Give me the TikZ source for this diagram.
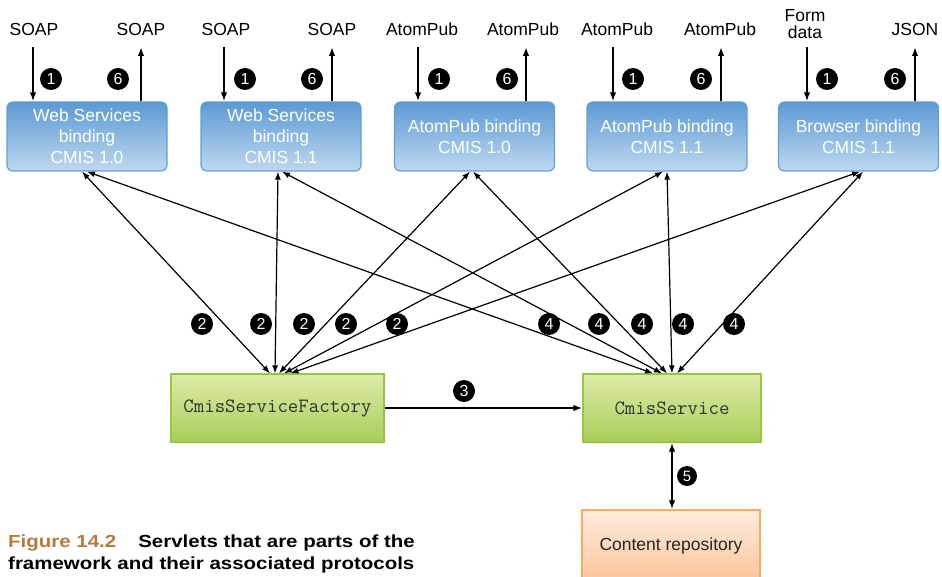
\documentclass[tikz,border=0pt]{standalone}
\usepackage{fontspec}
\setmainfont{Liberation Sans}
\newfontfamily\capfont[FakeStretch=1.17]{Liberation Sans}
\usetikzlibrary{arrows.meta}
\definecolor{bluetop}{RGB}{92,154,212}
\definecolor{bluebot}{RGB}{190,216,240}
\definecolor{blueedge}{RGB}{98,158,215}
\definecolor{greentop}{RGB}{222,234,168}
\definecolor{greenbot}{RGB}{168,206,88}
\definecolor{greenedge}{RGB}{146,200,70}
\definecolor{orangetop}{RGB}{253,236,224}
\definecolor{orangebot}{RGB}{250,196,152}
\definecolor{orangeedge}{RGB}{247,170,100}
\definecolor{capbrown}{RGB}{184,122,60}
\definecolor{monogray}{RGB}{50,50,50}
\tikzset{
  binding/.style={draw=blueedge, line width=1.2pt, rounded corners=6pt,
    top color=bluetop, bottom color=bluebot, minimum width=160pt,
    minimum height=69pt, text=white, align=center, inner sep=0pt,
    font=\fontsize{17.5}{21}\selectfont},
  servlet/.style={draw=greenedge, line width=1.2pt, top color=greentop,
    bottom color=greenbot, minimum height=68pt, inner sep=0pt,
    text=monogray, font=\ttfamily\fontsize{20.3}{22}\selectfont},
  repo/.style={draw=orangeedge, line width=1.2pt, top color=orangetop,
    bottom color=orangebot, minimum height=72pt, minimum width=178pt,
    inner sep=0pt, text=black!85, font=\fontsize{17.5}{21}\selectfont},
  proto/.style={inner sep=0pt, align=center, font=\fontsize{17.5}{17}\selectfont},
  num/.style={circle, fill=black, text=white, minimum size=22pt, inner sep=0pt,
    font=\fontsize{16}{16}\selectfont},
  io/.style={line width=1.8pt, -{Latex[length=9pt,width=6.5pt]}},
  dbl/.style={line width=1.2pt, {Latex[length=8pt,width=6pt]}-{Latex[length=8pt,width=6pt]}},
  thick3/.style={line width=2pt, -{Latex[length=9pt,width=6.5pt]}},
  dbl5/.style={line width=2pt, {Latex[length=9pt,width=6.5pt]}-{Latex[length=9pt,width=6.5pt]}},
}
\begin{document}
\begin{tikzpicture}[x=1pt,y=-1pt]
\useasboundingbox (0,0) rectangle (942,577);

% binding boxes
\node[binding] (b1) at (87,136.5) {Web Services\\binding\\CMIS 1.0};
\node[binding] (b2) at (281,136.5) {Web Services\\binding\\CMIS 1.1};
\node[binding] (b3) at (474.5,136.5) {AtomPub binding\\CMIS 1.0};
\node[binding] (b4) at (667,136.5) {AtomPub binding\\CMIS 1.1};
\node[binding] (b5) at (858.5,136.5) {Browser binding\\CMIS 1.1};

% protocol labels
\node[proto] (p1i) at (34,29) {SOAP};
\node[proto] (p1o) at (141,29) {SOAP};
\node[proto] (p2i) at (226,29) {SOAP};
\node[proto] (p2o) at (332,29) {SOAP};
\node[proto] (p3i) at (422,29) {AtomPub};
\node[proto] (p3o) at (523,29) {AtomPub};
\node[proto] (p4i) at (617,29) {AtomPub};
\node[proto] (p4o) at (720,29) {AtomPub};
\node[proto] (p5i) at (805,24.5) {Form\\data};
\node[proto] (p5o) at (915,29) {JSON};

% arrow ends near labels
\coordinate (t1i) at (33,47);  \coordinate (t1o) at (141,47);
\coordinate (t2i) at (224,47); \coordinate (t2o) at (332,47);
\coordinate (t3i) at (418,47); \coordinate (t3o) at (526,47);
\coordinate (t4i) at (613,47); \coordinate (t4o) at (721,47);
\coordinate (t5i) at (807,47); \coordinate (t5o) at (915,47);

\foreach \k in {1,...,5}{
  \draw[io] (t\k i) -- (t\k i |- b\k.north);
  \draw[io] (t\k o |- b\k.north) -- (t\k o);
}

% numbers 1 and 6
\node[num] (n1a) at (51,79) {1};  \node[num] (n6a) at (118,79) {6};
\node[num] (n1b) at (245,79) {1}; \node[num] (n6b) at (312,79) {6};
\node[num] (n1c) at (439,79) {1}; \node[num] (n6c) at (507,79) {6};
\node[num] (n1d) at (633,79) {1}; \node[num] (n6d) at (701,79) {6};
\node[num] (n1e) at (827,79) {1}; \node[num] (n6e) at (895,79) {6};

% servlet boxes
\node[servlet, minimum width=213pt] (f) at (277.5,408) {CmisServiceFactory};
\node[servlet, minimum width=178pt] (s) at (672,408) {CmisService};
\node[repo] (c) at (671,546) {Content repository};

% double arrows to factory
\draw[dbl] ([xshift=-5pt]b1.south) -- ([xshift=-7.5pt]f.north);
\draw[dbl] ([xshift=-3pt]b2.south) -- ([xshift=-2.5pt]f.north);
\draw[dbl] ([xshift=-4.5pt]b3.south) -- ([xshift=1.5pt]f.north);
\draw[dbl] ([xshift=-4pt]b4.south) -- ([xshift=6.5pt]f.north);
\draw[dbl] ([xshift=1.5pt]b5.south) -- ([xshift=13pt]f.north);
% double arrows to service
\draw[dbl] (b1.south) -- ([xshift=-19pt]s.north);
\draw[dbl] ([xshift=1pt]b2.south) -- ([xshift=-10pt]s.north);
\draw[dbl] ([xshift=-1.5pt]b3.south) -- ([xshift=-5pt]s.north);
\draw[dbl] (b4.south) -- ([xshift=0pt]s.north);
\draw[dbl] ([xshift=4.5pt]b5.south) -- ([xshift=5pt]s.north);

% numbers 2 and 4
\node[num] (n2a) at (202,324) {2};
\node[num] (n2b) at (261,324) {2};
\node[num] (n2c) at (304,324) {2};
\node[num] (n2d) at (346,324) {2};
\node[num] (n2e) at (397,324) {2};
\node[num] (n4a) at (549,324) {4};
\node[num] (n4b) at (599,324) {4};
\node[num] (n4c) at (642,324) {4};
\node[num] (n4d) at (683,324) {4};
\node[num] (n4e) at (734,324) {4};

% factory -> service
\draw[thick3] (f.east) -- (s.west);
\node[num] (n3) at (464,391) {3};

% service <-> repository
\draw[dbl5] (s.south) -- (s.south |- c.north);
\node[num, minimum size=20pt, font=\fontsize{15}{15}\selectfont] (n5) at (687,476) {5};

% caption
\node[anchor=base west, inner sep=0pt, font=\capfont\bfseries\fontsize{17.5}{22}\selectfont] (cap1) at (8,547)
  {\textcolor{capbrown}{Figure 14.2}\hspace{22pt}Servlets that are parts of the};
\node[anchor=base west, inner sep=0pt, font=\capfont\bfseries\fontsize{17.5}{22}\selectfont] (cap2) at (8,569)
  {framework and their associated protocols};
\end{tikzpicture}
\end{document}
